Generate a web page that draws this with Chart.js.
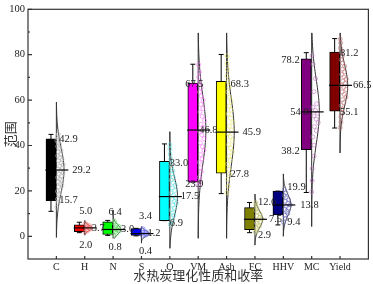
<!DOCTYPE html>
<html>
<head>
<meta charset="utf-8">
<script src="https://cdn.jsdelivr.net/npm/chart.js@4.4.0/dist/chart.umd.min.js"></script>
<style>
html, body { margin: 0; padding: 0; background: #fff; }
</style>
</head>
<body>
<canvas id="grafico_caixas" width="373" height="284"></canvas>
<script>
// dados
const categorias = ['C', 'H', 'N', 'S', 'O', 'VM', 'Ash', 'FC', 'HHV', 'MC', 'Yield'];
const q1 = [15.7, 2.0, 0.8, 0.4, 6.9, 23.9, 27.8, 2.9, 9.4, 38.2, 55.1];
const q3 = [42.9, 5.0, 6.4, 3.4, 33.0, 67.5, 68.3, 12.6, 19.9, 78.2, 81.2];
const media = [29.2, 3.7, 3.0, 1.2, 17.5, 46.8, 45.9, 7.5, 13.8, 54.8, 66.5];
const bigodeMin = [11.0, 1.6, 0.4, 0.2, 6.9, 23.9, 18.8, 1.6, 5.0, 19.3, 47.7];
const bigodeMax = [44.9, 6.2, 7.0, 3.5, 40.7, 75.8, 80.1, 14.9, 19.9, 80.9, 87.1];
const desvio = [10, 1.1, 2.1, 1.2, 8.5, 15, 15, 3.7, 4.6, 14, 9];
const curvaMin = [-0.5, 0.5, -1.0, -3.0, -5.3, -0.9, -0.9, -3.9, 0.0, 4.3, 36.7];
const curvaMax = [59.1, 7.0, 11.6, 4.3, 46.1, 89.6, 89.6, 18.6, 27.5, 89.6, 89.6];
const ticksY = [0, 20, 40, 60, 80, 100];

// pontos brutos (estimados)
const pontos = [
    [12.8, 15.1, 16.4, 17.9, 18.6, 19.8, 20.5, 21.7, 22.4, 23.1, 23.9, 24.6, 25.2, 25.9, 26.7, 27.3, 28.0, 28.8, 29.5, 30.1, 30.9, 31.6, 32.4, 33.2, 33.8, 34.7, 35.5, 36.2, 37.1, 37.9, 38.8, 39.6, 40.5, 41.3, 42.2, 43.1, 44.0, 44.9],
    [1.8, 2.4, 2.9, 3.2, 3.5, 3.7, 3.9, 4.2, 4.6, 5.1, 5.6],
    [0.6, 1.2, 1.9, 2.4, 2.8, 3.1, 3.5, 3.9, 4.4, 5.0, 5.8, 6.6],
    [0.3, 0.6, 0.9, 1.1, 1.3, 1.6, 2.0, 2.6, 3.3],
    [5.2, 6.8, 8.1, 9.3, 10.4, 11.6, 12.5, 13.7, 14.6, 15.4, 16.3, 17.2, 18.1, 19.0, 20.2, 21.3, 22.5, 23.6, 24.8, 26.1, 27.5, 28.9, 30.4, 32.1, 34.0, 36.2, 38.5, 40.3],
    [22.5, 24.3, 26.0, 28.4, 30.2, 32.6, 34.1, 36.0, 37.8, 39.5, 41.2, 43.0, 44.6, 46.1, 47.9, 49.3, 51.0, 52.8, 54.7, 56.3, 58.1, 59.9, 61.8, 63.5, 65.4, 67.6, 70.1, 72.4, 75.6],
    [19.2, 22.0, 25.1, 27.4, 29.6, 31.8, 33.5, 35.2, 37.0, 38.9, 40.4, 42.1, 43.9, 45.3, 46.8, 48.5, 50.2, 52.0, 53.9, 55.6, 57.4, 59.5, 61.3, 63.6, 65.8, 68.1, 70.7, 73.4, 76.2, 79.5],
    [1.8, 2.7, 3.6, 4.4, 5.1, 5.8, 6.5, 7.1, 7.7, 8.3, 9.0, 9.8, 10.6, 11.5, 12.4, 13.6, 14.8],
    [6.1, 7.9, 9.2, 10.1, 11.0, 11.8, 12.5, 13.2, 13.9, 14.6, 15.4, 16.2, 17.1, 18.0, 19.2, 20.6],
    [19.6, 24.5, 29.8, 35.3, 40.2, 43.8, 46.5, 48.3, 50.1, 51.6, 53.0, 54.2, 55.5, 56.9, 58.4, 63.7, 69.5, 75.8, 79.6],
    [47.9, 50.3, 52.6, 54.5, 56.1, 57.6, 58.9, 60.2, 61.4, 62.5, 63.6, 64.7, 65.6, 66.5, 67.4, 68.3, 69.3, 70.2, 71.3, 72.5, 73.6, 74.9, 76.3, 77.8, 79.4, 81.1, 83.0, 85.2, 86.9]
];

// estilo
const coresCaixa = ['#000000', '#ff0000', '#00ff00', '#0000ff', '#00ffff', '#ff00ff', '#ffff00', '#808000', '#000080', '#800080', '#800000'];
const coresPonto = ['#b4b4b4', '#ff6a6a', '#5cd85c', '#6a6aff', '#60e4e4', '#ff6aff', '#e4e460', '#c4c466', '#6a6ac8', '#c070c0', '#c87070'];
const DESLOC_CAIXA = -0.19;
const LARGURA_SINO = 0.27;
const FONTE_NUM = { family: 'Liberation Serif', size: 10.5 };
const COR_TEXTO = '#222';

// posicao dos rotulos em px: qx/alinhamento dos quartis, mx da media, dy dos quartis
const layoutRotulos = [
    { qx: 3, align: 'left', mx: 16, up: 0, down: 0 },
    { qx: 1, align: 'center', mx: 7, up: -13.5, down: 13.5 },
    { qx: 2, align: 'center', mx: 8, up: -9.5, down: 12.5 },
    { qx: 4, align: 'center', mx: 6, up: -12, down: 15.5 },
    { qx: 0, align: 'left', mx: 11, up: 2, down: 3 },
    { qx: -13, align: 'left', mx: 1, up: 1, down: 2 },
    { qx: 4, align: 'left', mx: 16, up: 3, down: 1 },
    { qx: 3, align: 'left', mx: 14, up: -5, down: 6 },
    { qx: 4, align: 'left', mx: 17, up: -4, down: 7 },
    { qx: -12, align: 'right', mx: -3, up: 1, down: 2, malign: 'right' },
    { qx: 0, align: 'left', mx: 13, up: 1, down: 1 }
];

function densidade(i, v) {
    return Math.exp(-0.5 * Math.pow((v - media[i]) / desvio[i], 2));
}

function jitter(k) {
    return 0.15 + 0.8 * ((k * 0.618034) % 1);
}

const desenhoCaixas = {
    id: 'desenhoCaixas',
    beforeDatasetsDraw(chart) {
        const { ctx, scales: { x, y } } = chart;
        ctx.save();
        ctx.lineWidth = 1;
        categorias.forEach((c, i) => {
            const cx = x.getPixelForValue(i);
            ctx.strokeStyle = '#333';
            ctx.beginPath();
            ctx.moveTo(cx, y.getPixelForValue(curvaMin[i]));
            ctx.lineTo(cx, y.getPixelForValue(curvaMax[i]));
            ctx.stroke();

            ctx.beginPath();
            for (let k = 0; k <= 60; k++) {
                const v = curvaMin[i] + (curvaMax[i] - curvaMin[i]) * k / 60;
                const px = x.getPixelForValue(i + LARGURA_SINO * densidade(i, v));
                const py = y.getPixelForValue(v);
                if (k === 0) ctx.moveTo(px, py); else ctx.lineTo(px, py);
            }
            ctx.stroke();

            // bigodes
            const bx = x.getPixelForValue(i + DESLOC_CAIXA);
            const yMin = y.getPixelForValue(bigodeMin[i]);
            const yMax = y.getPixelForValue(bigodeMax[i]);
            ctx.strokeStyle = '#000';
            ctx.beginPath();
            ctx.moveTo(bx, yMin); ctx.lineTo(bx, yMax);
            ctx.moveTo(bx - 2.5, yMin); ctx.lineTo(bx + 2.5, yMin);
            ctx.moveTo(bx - 2.5, yMax); ctx.lineTo(bx + 2.5, yMax);
            ctx.stroke();
        });
        ctx.restore();
    },
    afterDatasetsDraw(chart) {
        const { ctx, chartArea: a, scales: { x, y } } = chart;
        ctx.save();

        // linha da media
        ctx.strokeStyle = '#000';
        ctx.lineWidth = 1.2;
        categorias.forEach((c, i) => {
            const cx = x.getPixelForValue(i);
            const my = y.getPixelForValue(media[i]);
            ctx.beginPath();
            ctx.moveTo(cx - 11, my);
            ctx.lineTo(cx + 12, my);
            ctx.stroke();
        });

        // rotulos
        ctx.fillStyle = COR_TEXTO;
        ctx.font = `${FONTE_NUM.size}px "${FONTE_NUM.family}"`;
        ctx.textBaseline = 'middle';
        categorias.forEach((c, i) => {
            const cx = x.getPixelForValue(i);
            const L = layoutRotulos[i];
            ctx.textAlign = L.align;
            ctx.fillText(q3[i].toFixed(1), cx + L.qx, y.getPixelForValue(q3[i]) + L.up);
            ctx.fillText(q1[i].toFixed(1), cx + L.qx, y.getPixelForValue(q1[i]) + L.down);
            ctx.textAlign = L.malign || 'left';
            ctx.fillText(media[i].toFixed(1), cx + L.mx, y.getPixelForValue(media[i]));
        });

        // moldura e marcas para dentro
        ctx.strokeStyle = '#333';
        ctx.lineWidth = 1.2;
        ctx.strokeRect(a.left, a.top, a.right - a.left, a.bottom - a.top);
        ctx.beginPath();
        for (let v = 0; v <= 100; v += 10) {
            const py = y.getPixelForValue(v);
            ctx.moveTo(a.left, py);
            ctx.lineTo(a.left + (v % 20 === 0 ? 4 : 2), py);
        }
        categorias.forEach((c, i) => {
            const px = x.getPixelForValue(i);
            ctx.moveTo(px, a.bottom);
            ctx.lineTo(px, a.bottom - 3);
        });
        ctx.stroke();
        ctx.restore();
    }
};

new Chart(document.getElementById('grafico_caixas').getContext('2d'), {
    type: 'bar',
    data: {
        datasets: [
            {
                type: 'bar',
                data: categorias.map((c, i) => ({ x: i + DESLOC_CAIXA, y: [q1[i], q3[i]] })),
                backgroundColor: coresCaixa,
                borderColor: '#000',
                borderWidth: 1,
                borderSkipped: false,
                barThickness: 10,
                order: 2
            },
            ...pontos.map((lista, i) => ({
                type: 'scatter',
                data: lista.map((v, k) => ({ x: i + LARGURA_SINO * jitter(k) * densidade(i, v), y: v })),
                pointRadius: 2,
                pointBorderWidth: 0.6,
                pointBorderColor: coresPonto[i],
                pointBackgroundColor: 'rgba(0,0,0,0)',
                order: 1
            }))
        ]
    },
    options: {
        responsive: false,
        animation: false,
        layout: { padding: { top: 6, right: 3, left: 0, bottom: 0 } },
        plugins: { legend: { display: false }, tooltip: { enabled: false } },
        scales: {
            x: {
                type: 'linear',
                offset: false,
                min: -1,
                max: 11,
                afterFit(s) { s.height = 25; },
                afterBuildTicks(s) { s.ticks = categorias.map((c, i) => ({ value: i })); },
                ticks: {
                    autoSkip: false,
                    maxRotation: 0,
                    padding: 2,
                    font: { family: 'Liberation Serif', size: 10 },
                    color: COR_TEXTO,
                    callback: v => categorias[v]
                },
                grid: { display: false, drawTicks: false },
                border: { display: false },
                title: {
                    display: true,
                    text: '水热炭理化性质和收率',
                    font: { family: 'Noto Sans CJK SC', size: 13 },
                    color: '#333',
                    padding: { top: 0, bottom: 1 }
                }
            },
            y: {
                min: -10,
                max: 100,
                afterFit(s) { s.width = 28; },
                afterBuildTicks(s) { s.ticks = ticksY.map(v => ({ value: v })); },
                ticks: {
                    padding: 3,
                    font: FONTE_NUM,
                    color: COR_TEXTO
                },
                grid: { display: false, drawTicks: false },
                border: { display: false },
                title: {
                    display: true,
                    text: '范围',
                    font: { family: 'Noto Sans CJK SC', size: 13 },
                    color: '#333',
                    padding: { top: 2, bottom: 0 }
                }
            }
        }
    },
    plugins: [desenhoCaixas]
});
</script>
</body>
</html>
